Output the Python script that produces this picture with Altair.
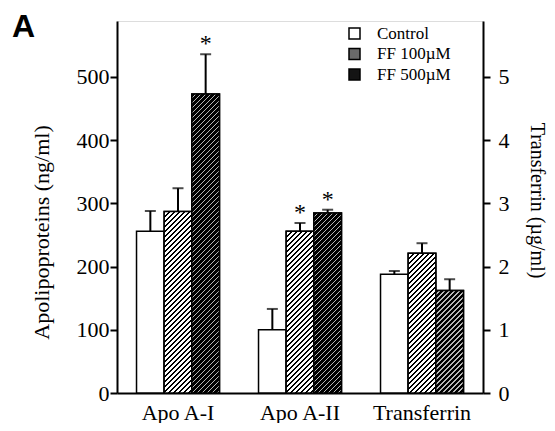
import altair as alt
import pandas as pd

# ---- data ----
categories = ["Apo A-I", "Apo A-II", "Transferrin"]
series = ["Control", "FF 100µM", "FF 500µM"]

apo_cats = ["Apo A-I", "Apo A-II"]
apo_control = [256, 100]
apo_ff100 = [287, 256]
apo_ff500 = [473, 285]
apo_err_control = [32, 33]
apo_err_ff100 = [37, 13]
apo_err_ff500 = [63, 5]
apo_sig = [("Apo A-I", "FF 500µM"), ("Apo A-II", "FF 100µM"), ("Apo A-II", "FF 500µM")]

tf_cat = "Transferrin"
tf_mean = [1.88, 2.21, 1.62]
tf_err = [0.05, 0.16, 0.18]

# ---- layout constants ----
PLOT_W, PLOT_H = 366, 372
APO_MAX, TF_MAX = 588.6, 5.886
PAD_IN, PAD_OUT = 0.32, 0.16
step = PLOT_W / (len(categories) - PAD_IN + 2 * PAD_OUT)
BAR_W = step * (1 - PAD_IN) / len(series)
FONT = "Liberation Serif"

rows = []
for i, c in enumerate(apo_cats):
    for s, m, e in zip(series, [apo_control[i], apo_ff100[i], apo_ff500[i]],
                       [apo_err_control[i], apo_err_ff100[i], apo_err_ff500[i]]):
        rows.append({"cat": c, "series": s, "value": m, "upper": m + e,
                     "sig": "*" if (c, s) in apo_sig else ""})
df_apo = pd.DataFrame(rows)
df_tf = pd.DataFrame({"cat": [tf_cat] * 3, "series": series, "value": tf_mean,
                      "upper": [m + e for m, e in zip(tf_mean, tf_err)]})


def hatch(value, vmax, period, frac, bg, fg):
    h = value / vmax * PLOT_H
    w = BAR_W
    L = w + h
    stops = [{"offset": 0, "color": bg}]
    k = 0
    while k * period < L:
        a = k * period / L
        b = min(1.0, (k * period + frac * period) / L)
        stops += [{"offset": a, "color": bg}, {"offset": a, "color": fg},
                  {"offset": b, "color": fg}, {"offset": b, "color": bg}]
        k += 1
    stops.append({"offset": 1, "color": bg})
    d = w * w + h * h
    return {"gradient": "linear", "x1": 0, "y1": 0,
            "x2": w * L / d, "y2": h * L / d, "stops": stops}


STYLE = {"FF 100µM": dict(period=5.0, frac=0.42, bg="white", fg="black"),
         "FF 500µM": dict(period=5.0, frac=0.70, bg="#b8b8b8", fg="black")}


def xenc():
    return alt.X("cat:N", scale=alt.Scale(domain=categories, paddingInner=PAD_IN,
                                          paddingOuter=PAD_OUT),
                 axis=alt.Axis(title=None, labelAngle=0, ticks=False, labelPadding=9,
                               labelFontSize=22, labelFont=FONT, labelColor="black",
                               domainColor="black", domainWidth=2))


xoff = alt.XOffset("series:N", scale=alt.Scale(domain=series, paddingInner=0, paddingOuter=0))
fill_enc = alt.Fill("series:N",
                    scale=alt.Scale(domain=series, range=["white", "#6a6a6a", "#141414"]),
                    legend=alt.Legend(title=None, orient="none", legendX=229, legendY=4,
                                      symbolType="square", symbolSize=121,
                                      symbolStrokeColor="black", symbolStrokeWidth=1.5,
                                      labelFont=FONT, labelFontSize=17, labelColor="black",
                                      labelOffset=14, rowPadding=2.5, padding=0))


def build(df, vmax, axis):
    y = alt.Y("value:Q", scale=alt.Scale(domain=[0, vmax], nice=False), axis=axis)
    base = alt.Chart(df).mark_bar(stroke="black", strokeWidth=1.5).encode(
        x=xenc(), xOffset=xoff, y=y, fill=fill_enc)
    layers = [base]
    for _, r in df.iterrows():
        if r["series"] in STYLE:
            g = hatch(r["value"], vmax, **STYLE[r["series"]])
            layers.append(alt.Chart(pd.DataFrame([r])).mark_bar(
                fill=g, stroke="black", strokeWidth=1.5).encode(
                x=xenc(), xOffset=xoff, y=y))
    stem = alt.Chart(df).mark_rule(color="black", strokeWidth=2).encode(
        x=xenc(), xOffset=xoff, y=y, y2="upper:Q")
    cap = alt.Chart(df).mark_tick(color="black", thickness=2, size=11).encode(
        x=xenc(), xOffset=xoff, y=alt.Y("upper:Q", scale=alt.Scale(domain=[0, vmax], nice=False)))
    layers += [stem, cap]
    return layers


left_axis = alt.Axis(orient="left", values=[0, 100, 200, 300, 400, 500], grid=False, format="d",
                     title="Apolipoproteins (ng/ml)", titleFont=FONT, titleFontSize=22,
                     titleFontWeight="normal", titleColor="black", titleX=-64, titleY=211,
                     titleBaseline="bottom", titleAngle=-90,
                     labelFont=FONT, labelFontSize=22, labelColor="black", labelPadding=1,
                     tickSize=7, tickWidth=2, tickColor="black",
                     domainColor="black", domainWidth=2)
right_axis = alt.Axis(orient="right", values=[0, 1, 2, 3, 4, 5], grid=False, format="d",
                      title="Transferrin (µg/ml)", titleFont=FONT, titleFontSize=20,
                      titleFontWeight="normal", titleColor="black", titleX=43, titleY=179,
                      titleBaseline="bottom", titleAngle=90,
                      labelFont=FONT, labelFontSize=22, labelColor="black", labelPadding=8,
                      tickSize=7, tickWidth=2, tickColor="black",
                      domainColor="black", domainWidth=2)

apo_layers = build(df_apo, APO_MAX, left_axis)
stars = alt.Chart(df_apo).mark_text(font=FONT, fontSize=24, fill="black", color="black",
                                    baseline="alphabetic", dy=-3).encode(
    x=xenc(), xOffset=xoff,
    y=alt.Y("upper:Q", scale=alt.Scale(domain=[0, APO_MAX], nice=False)),
    text="sig:N")
left = alt.layer(*apo_layers, stars)
right = alt.layer(*build(df_tf, TF_MAX, right_axis))

chart = alt.layer(left, right).resolve_scale(y="independent").properties(
    width=PLOT_W, height=PLOT_H,
    autosize=alt.AutoSizeParams(type="none"),
    padding={"left": 109, "top": 13, "right": 64, "bottom": 30},
    title=alt.TitleParams("A", anchor="start", orient="top", font="Liberation Sans",
                          fontSize=32, fontWeight="bold", color="black",
                          baseline="alphabetic", offset=-48, dx=-105, frame="group"),
).configure_view(stroke="black", strokeWidth=2).configure(background="white")

chart.save("out.html", embed_options={"renderer": "svg", "actions": False})
